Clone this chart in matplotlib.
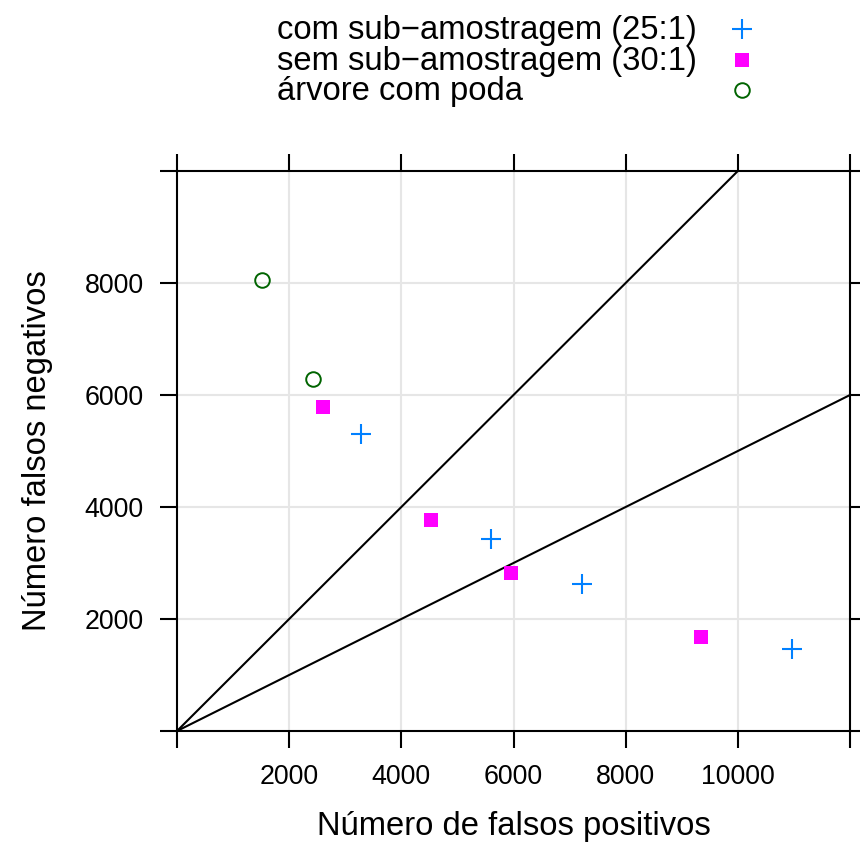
import matplotlib
matplotlib.use('Agg')
import matplotlib.pyplot as plt
from matplotlib.lines import Line2D
import numpy as np

matplotlib.rc('font', family='Liberation Sans')

# series
fp_sub = [3280, 5607, 7214, 10959]
fn_sub = [5304, 3429, 2625, 1470]
fp_nosub = [2607, 4536, 5964, 9352]
fn_nosub = [5786, 3768, 2821, 1673]
fp_tree = [1513, 2423]
fn_tree = [8054, 6286]

labels = ['com sub\u2212amostragem (25:1)', 'sem sub\u2212amostragem (30:1)', '\u00e1rvore com poda']
colors = ['#0080ff', '#ff00ff', '#006400']

# reference lines y = x and y = x/2
slopes = [1.0, 0.5]

xticks = [0, 2000, 4000, 6000, 8000, 10000, 12000]
yticks = [0, 2000, 4000, 6000, 8000, 10000]

fig = plt.figure(figsize=(8.6, 8.43), dpi=100)
ax = fig.add_axes([177/860, 1 - 731/843, 673/860, 560/843])

ax.set_xlim(0, 12000)
ax.set_ylim(0, 10000)

for v in xticks[1:-1]:
    ax.axvline(v, color='#e6e6e6', lw=1.5, zorder=0)
for v in yticks[1:-1]:
    ax.axhline(v, color='#e6e6e6', lw=1.5, zorder=0)

xs = np.array([0, 12000])
for s in slopes:
    ax.plot(xs, s * xs, color='black', lw=1.5, zorder=1)

ax.plot(fp_sub, fn_sub, ls='none', marker='+', ms=14.5, mew=1.5, color=colors[0], zorder=3)
ax.plot(fp_nosub, fn_nosub, ls='none', marker='s', ms=10, mew=0, color=colors[1], zorder=3)
ax.plot(fp_tree, fn_tree, ls='none', marker='o', ms=10.5, mew=1.4, mfc='none', mec=colors[2], zorder=3)

ax.set_xticks(xticks)
ax.set_xticklabels([''] + [str(v) for v in xticks[1:-1]] + [''])
ax.set_yticks(yticks)
ax.set_yticklabels([''] + [str(v) for v in yticks[1:-1]] + [''])
ax.tick_params(direction='out', length=12, width=1.5, labelsize=19.3, pad=12,
               top=True, right=True, labeltop=False, labelright=False)
for sp in ax.spines.values():
    sp.set_linewidth(1.5)

ax.set_xlabel('N\u00famero de falsos positivos', fontsize=23.6, labelpad=15)
ax.set_ylabel('N\u00famero falsos negativos', fontsize=23.6, labelpad=23)

# key at the top
rows_y = [29, 60, 90]
markers = [dict(marker='+', ms=14.5, mew=1.5, color=colors[0]),
           dict(marker='s', ms=10, mew=0, color=colors[1]),
           dict(marker='o', ms=10.5, mew=1.4, mfc='none', mec=colors[2], color=colors[2])]
for lab, yy, mk in zip(labels, rows_y, markers):
    fig.text(277/860, 1 - (yy + 10)/843, lab, fontsize=23.6, ha='left', va='baseline')
    fig.add_artist(Line2D([742/860], [1 - yy/843], transform=fig.transFigure, ls='none', **mk))

plt.savefig('out.png', dpi=100)
